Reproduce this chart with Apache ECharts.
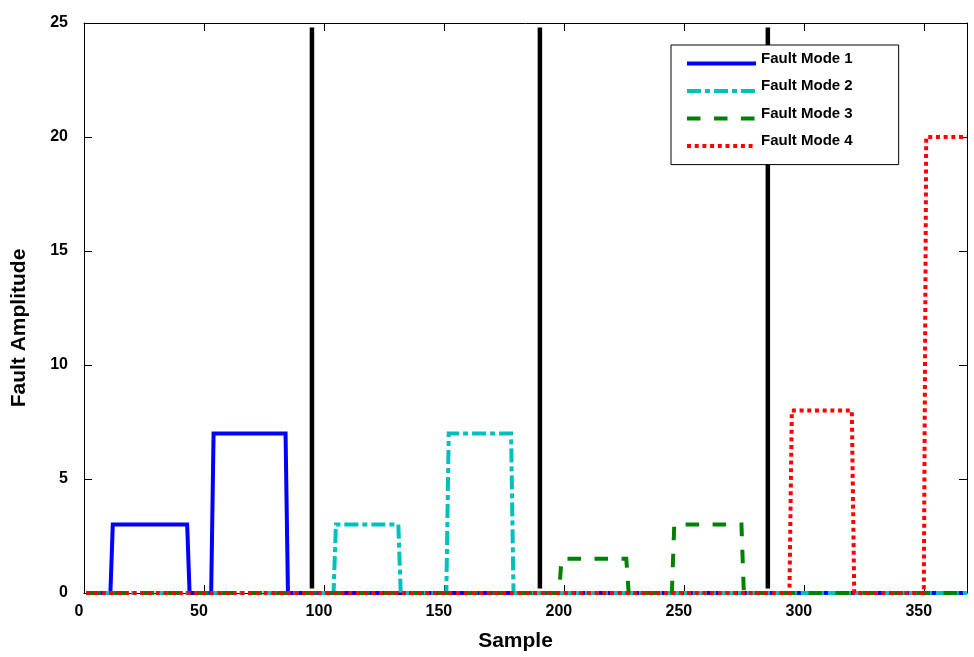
<!DOCTYPE html>
<html>
<head>
<meta charset="utf-8">
<script src="https://cdn.jsdelivr.net/npm/echarts@6/dist/echarts.min.js"></script>
<style>
html,body{margin:0;padding:0;background:#fff;}
#chart{width:974px;height:657px;}
</style>
</head>
<body>
<div id="chart"></div>
<script>
// ---- data ----
const seriesNames = ['Fault Mode 1', 'Fault Mode 2', 'Fault Mode 3', 'Fault Mode 4'];
// [sample, fault amplitude] breakpoints of each step signal
const mode1 = [[1,0],[11,0],[12,3],[43,3],[44,0],[53,0],[54,7],[84,7],[85,0],[368,0]];
const mode2 = [[1,0],[104,0],[105,3],[131,3],[132,0],[151,0],[152,7],[178,7],[179,0],[368,0]];
const mode3 = [[1,0],[198,0],[199,1.5],[226,1.5],[227,0],[245,0],[246,3],[274,3],[275,0],[368,0]];
const mode4 = [[1,0],[294,0],[295,8],[320,8],[321,0],[350,0],[351,20],[368,20]];
// vertical separators between fault-mode blocks
const separatorX = [95, 190, 285];
const separatorY = [0.2, 24.8];
const xRange = [0, 368];
const yRange = [0, 25];
const xStep = 50;
const yStep = 5;

// ---- styling ----
const FONT = '"Liberation Sans", Arial, sans-serif';
const colors = ['#0000ff', '#00bfbf', '#008000', '#ff0000'];
const dashes = ['solid', [14, 4, 5, 4], [13.5, 13.5], [4, 3.7]];
const widths = [4, 4, 4, 4];
const modes = [mode1, mode2, mode3, mode4];

const series = [];
separatorX.forEach(function (x) {
  series.push({
    type: 'line',
    data: separatorY.map(function (y) { return [x, y]; }),
    symbol: 'none',
    silent: true,
    lineStyle: { color: '#000', width: 4.5 },
    z: 1
  });
});
modes.forEach(function (d, i) {
  series.push({
    name: seriesNames[i],
    type: 'line',
    data: d,
    symbol: 'none',
    lineStyle: { color: colors[i], width: widths[i], type: dashes[i], cap: 'butt', join: 'miter' },
    itemStyle: { color: colors[i] },
    z: 2 + i
  });
});

function tickStyle() { return { show: true, inside: true, length: 8, lineStyle: { color: '#000', width: 1 } }; }
function lineStyle() { return { show: true, onZero: false, lineStyle: { color: '#000', width: 1 } }; }

const option = {
  animation: false,
  backgroundColor: '#fff',
  grid: { left: 84, top: 23, right: 7, bottom: 63, containLabel: false },
  legend: {
    data: seriesNames,
    orient: 'vertical',
    left: 671,
    top: 45,
    padding: [6, 46, 13, 14],
    itemWidth: 69,
    itemHeight: 14,
    itemGap: 9.4,
    itemStyle: { opacity: 0 },
    lineStyle: { width: 4 },
    backgroundColor: '#fff',
    borderColor: '#000',
    borderWidth: 1,
    borderRadius: 0,
    formatter: function (name) { return '{t|' + name + '}'; },
    textStyle: {
      fontFamily: FONT, fontWeight: 'bold', fontSize: 15, color: '#000',
      rich: { t: { fontFamily: FONT, fontWeight: 'bold', fontSize: 15, color: '#000', padding: [0, 0, 10, 0] } }
    }
  },
  xAxis: [{
    type: 'value',
    min: xRange[0], max: xRange[1], interval: xStep,
    axisLine: lineStyle(),
    axisTick: tickStyle(),
    splitLine: { show: false },
    axisLabel: {
      showMaxLabel: false,
      fontFamily: FONT, fontWeight: 'bold', fontSize: 16, color: '#000',
      margin: 11, padding: [0, 10, 0, 0]
    },
    name: 'Sample',
    nameLocation: 'middle',
    nameGap: 38,
    nameTextStyle: { fontFamily: FONT, fontWeight: 'bold', fontSize: 21, color: '#000', padding: [0, 20, 0, 0] }
  }, {
    type: 'value', position: 'top',
    min: xRange[0], max: xRange[1], interval: xStep,
    axisLine: lineStyle(), axisTick: tickStyle(),
    axisLabel: { show: false }, splitLine: { show: false }
  }],
  yAxis: [{
    type: 'value',
    min: yRange[0], max: yRange[1], interval: yStep,
    axisLine: lineStyle(),
    axisTick: tickStyle(),
    splitLine: { show: false },
    axisLabel: {
      fontFamily: FONT, fontWeight: 'bold', fontSize: 16, color: '#000',
      margin: 16, padding: [0, 0, 10, 0]
    },
    name: 'Fault Amplitude',
    nameLocation: 'middle',
    nameGap: 54,
    nameRotate: 90,
    nameTextStyle: { fontFamily: FONT, fontWeight: 'bold', fontSize: 21, color: '#000', padding: [0, 40, 0, 0] }
  }, {
    type: 'value', position: 'right',
    min: yRange[0], max: yRange[1], interval: yStep,
    axisLine: lineStyle(), axisTick: tickStyle(),
    axisLabel: { show: false }, splitLine: { show: false }
  }],
  series: series
};

const chart = echarts.init(document.getElementById('chart'), null, { renderer: 'canvas' });
chart.setOption(option);
</script>
</body>
</html>
